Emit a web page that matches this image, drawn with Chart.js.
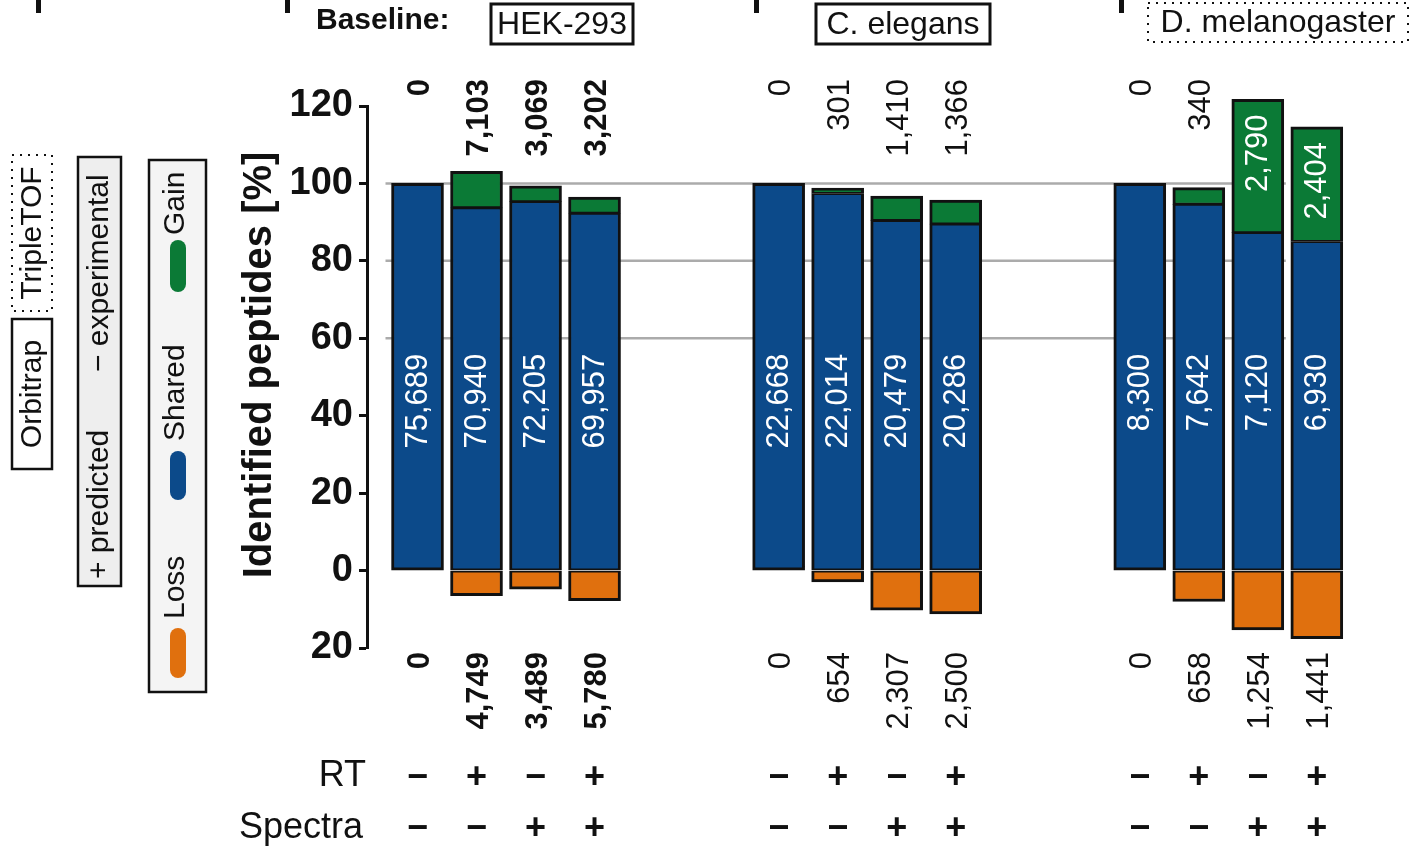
<!DOCTYPE html>
<html>
<head>
<meta charset="utf-8">
<title>Identified peptides</title>
<script src="https://cdn.jsdelivr.net/npm/chart.js@4.4.1/dist/chart.umd.min.js"></script>
<style>
  html, body { margin: 0; padding: 0; background: #fff; }
  #wrap { width: 1412px; height: 848px; }
</style>
</head>
<body>
<div id="wrap"><canvas id="myChart" width="1412" height="848"></canvas></div>
<script>
'use strict';

const groupNames = ['HEK-293', 'C. elegans', 'D. melanogaster'];
const rtFlags = ['−', '+', '−', '+'];
const spectraFlags = ['−', '−', '+', '+'];

// bar heights in % of baseline (4 bars per group)
const sharedPct = [100, 93.7, 95.3, 92.3, 100, 97.4, 90.4, 89.5, 100, 94.6, 87.3, 85.0];
const gainPct = [0, 9.4, 4.1, 4.2, 0, 1.4, 6.3, 6.2, 0, 4.3, 34.4, 29.6];
const lossPct = [0, 6.5, 4.8, 7.8, 0, 2.9, 10.2, 11.2, 0, 8.0, 15.3, 17.6];

// peptide counts printed on the figure
const sharedCounts = [75689, 70940, 72205, 69957, 22668, 22014, 20479, 20286, 8300, 7642, 7120, 6930];
const gainCounts = [0, 7103, 3069, 3202, 0, 301, 1410, 1366, 0, 340, 2790, 2404];
const lossCounts = [0, 4749, 3489, 5780, 0, 654, 2307, 2500, 0, 658, 1254, 1441];

const yTickValues = [-20, 0, 20, 40, 60, 80, 100, 120];
const gridValues = [60, 80, 100];

const FONT = '"Liberation Sans", Arial, Helvetica, sans-serif';
const BLUE = '#0c4a8a';
const GREEN = '#0b7a36';
const ORANGE = '#e0700e';
const INK = '#111111';

// layout: bars sit one unit apart, groups are pushed further apart
const groupStride = 6.12;
const barsPerGroup = 4;
const xPositions = sharedPct.map((v, i) => Math.floor(i / barsPerGroup) * groupStride + (i % barsPerGroup));

function fmt(n) {
  return n.toLocaleString('en-US');
}

function vText(ctx, text, x, y, align, font, color) {
  ctx.save();
  ctx.translate(x, y);
  ctx.rotate(-Math.PI / 2);
  ctx.font = font;
  ctx.fillStyle = color;
  ctx.textAlign = align;
  ctx.textBaseline = 'middle';
  ctx.fillText(text, 0, 0);
  ctx.restore();
}

function box(ctx, x, y, w, h, fill, dotted, lw) {
  ctx.save();
  if (fill) {
    ctx.fillStyle = fill;
    ctx.fillRect(x, y, w, h);
  }
  ctx.strokeStyle = INK;
  ctx.lineWidth = lw || 2.5;
  if (dotted) {
    ctx.setLineDash([2, 6]);
    ctx.lineWidth = 2;
  }
  ctx.strokeRect(x, y, w, h);
  ctx.restore();
}

function pill(ctx, cx, top, bottom, color) {
  ctx.save();
  ctx.fillStyle = color;
  ctx.beginPath();
  ctx.roundRect(cx - 8, top, 16, bottom - top, 8);
  ctx.fill();
  ctx.restore();
}

const annotate = {
  id: 'annotate',
  beforeDatasetsDraw(chart) {
    const ctx = chart.ctx;
    const xs = chart.scales.x;
    const ys = chart.scales.y;
    const x0 = xs.getPixelForValue(xPositions[0]) - 32;
    const x1 = xs.getPixelForValue(xPositions[10]) + 28;
    ctx.save();
    ctx.strokeStyle = '#ababab';
    ctx.lineWidth = 2.5;
    for (const v of gridValues) {
      const y = ys.getPixelForValue(v);
      ctx.beginPath();
      ctx.moveTo(x0, y);
      ctx.lineTo(x1, y);
      ctx.stroke();
    }
    ctx.restore();
  },
  afterDatasetsDraw(chart) {
    const ctx = chart.ctx;
    const ys = chart.scales.y;
    const bars = chart.getDatasetMeta(0).data;
    const area = chart.chartArea;
    for (let i = 0; i < bars.length; i++) {
      const cx = bars[i].x;
      const bold = i < barsPerGroup ? 'bold ' : '';
      // shared count inside the blue bar
      vText(ctx, fmt(sharedCounts[i]), cx + 1, ys.getPixelForValue(56), 'right', '31px ' + FONT, '#ffffff');
      // gain count: above the bar, or inside a tall green segment
      if (gainPct[i] > 20) {
        const top = ys.getPixelForValue(sharedPct[i] + gainPct[i]);
        vText(ctx, fmt(gainCounts[i]), cx + 1, top + 15, 'right', '31px ' + FONT, '#ffffff');
      } else {
        vText(ctx, fmt(gainCounts[i]), cx + 3, 79, 'right', bold + '31px ' + FONT, INK);
      }
      // loss count below the axis
      vText(ctx, fmt(lossCounts[i]), cx + 3, area.bottom + 4, 'right', bold + '31px ' + FONT, INK);
      // RT / Spectra flags
      ctx.save();
      ctx.font = 'bold 36px ' + FONT;
      ctx.fillStyle = INK;
      ctx.textAlign = 'center';
      ctx.textBaseline = 'middle';
      ctx.fillText(rtFlags[i % barsPerGroup], cx, 778);
      ctx.fillText(spectraFlags[i % barsPerGroup], cx, 829);
      ctx.restore();
    }
  },
  afterDraw(chart) {
    const ctx = chart.ctx;
    ctx.save();
    ctx.fillStyle = INK;
    ctx.textBaseline = 'middle';

    // row labels
    ctx.font = '36px ' + FONT;
    ctx.textAlign = 'right';
    ctx.fillText('RT', 366, 776);
    ctx.fillText('Spectra', 363, 828);

    // header
    ctx.font = 'bold 30px ' + FONT;
    ctx.textAlign = 'left';
    ctx.fillText('Baseline:', 316, 21);
    for (const x of [38, 287, 756, 1121]) {
      ctx.fillRect(x - 2, 0, 5, 13);
    }
    ctx.restore();

    box(ctx, 491, 4, 142, 40, null, false, 3);
    box(ctx, 816, 4, 174, 40, null, false, 3);
    box(ctx, 1148, 3, 260, 39, null, true);
    ctx.save();
    ctx.font = '32px ' + FONT;
    ctx.fillStyle = INK;
    ctx.textAlign = 'center';
    ctx.textBaseline = 'middle';
    ctx.fillText(groupNames[0], 562, 25);
    ctx.fillText(groupNames[1], 903, 25);
    ctx.fillText(groupNames[2], 1278, 23);
    ctx.restore();

    // y axis title
    vText(ctx, 'Identified peptides [%]', 260, 365, 'center', 'bold 40px ' + FONT, INK);

    // instrument boxes
    box(ctx, 12, 155, 40, 156, null, true);
    box(ctx, 12, 319, 40, 150, null, false, 2.5);
    vText(ctx, 'TripleTOF', 33, 233, 'center', '30px ' + FONT, INK);
    vText(ctx, 'Orbitrap', 33, 394, 'center', '30px ' + FONT, INK);

    // predicted / experimental
    box(ctx, 78, 157, 43, 429, '#eeeeee', false, 2.5);
    vText(ctx, '+ predicted', 100, 579, 'left', '30px ' + FONT, INK);
    vText(ctx, '− experimental', 100, 372, 'left', '30px ' + FONT, INK);

    // colour legend
    box(ctx, 149, 160, 57, 532, '#f4f4f4', false, 2.5);
    pill(ctx, 178, 628, 678, ORANGE);
    pill(ctx, 178, 451, 500, BLUE);
    pill(ctx, 178, 240, 292, GREEN);
    vText(ctx, 'Loss', 176, 619, 'left', '30px ' + FONT, INK);
    vText(ctx, 'Shared', 176, 441, 'left', '30px ' + FONT, INK);
    vText(ctx, 'Gain', 176, 235, 'left', '30px ' + FONT, INK);
  }
};

// outer edges get a full outline, edges between stacked segments a thinner one
const OUTER = 3;
const INNER = 1.8;

function sharedBorder(c) {
  const i = c.dataIndex;
  return {
    top: gainPct[i] > 0 ? INNER : OUTER,
    bottom: lossPct[i] > 0 ? INNER : OUTER,
    left: OUTER,
    right: OUTER,
  };
}

function gainBorder() {
  return { top: OUTER, bottom: INNER, left: OUTER, right: OUTER };
}

function lossBorder() {
  return { top: INNER, bottom: OUTER, left: OUTER, right: OUTER };
}

function barSet(label, values, sign, color, border) {
  return {
    label: label,
    data: values.map((v, i) => ({ x: xPositions[i], y: sign * v })),
    backgroundColor: color,
    borderColor: INK,
    borderWidth: border,
    borderSkipped: false,
    barThickness: 52,
    clip: false,
  };
}

const config = {
  type: 'bar',
  data: {
    datasets: [
      barSet('Shared', sharedPct, 1, BLUE, sharedBorder),
      barSet('Gain', gainPct, 1, GREEN, gainBorder),
      barSet('Loss', lossPct, -1, ORANGE, lossBorder),
    ],
  },
  options: {
    responsive: false,
    animation: false,
    devicePixelRatio: 1,
    layout: { padding: { left: 233, top: 106, right: 12, bottom: 200 } },
    plugins: {
      legend: { display: false },
      tooltip: { enabled: false },
    },
    scales: {
      x: {
        type: 'linear',
        stacked: true,
        display: false,
        offset: false,
        min: -0.856,
        max: 16.65,
      },
      y: {
        stacked: true,
        min: -20,
        max: 120,
        afterFit(scale) {
          scale.width = 134;
        },
        afterBuildTicks(scale) {
          scale.ticks = yTickValues.map(v => ({ value: v }));
        },
        ticks: {
          callback: v => String(Math.abs(v)),
          font: { family: FONT, size: 38, weight: 'bold' },
          color: INK,
          padding: 6,
        },
        grid: { drawOnChartArea: false, tickLength: 8, tickWidth: 3, tickColor: INK },
        border: { display: true, color: INK, width: 3 },
      },
    },
  },
  plugins: [annotate],
};

new Chart(document.getElementById('myChart'), config);
</script>
</body>
</html>
